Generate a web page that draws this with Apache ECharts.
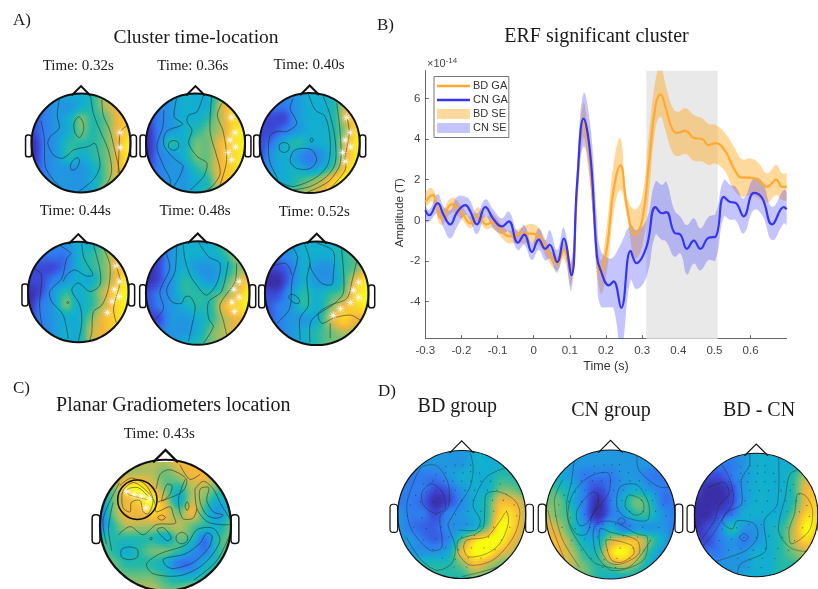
<!DOCTYPE html>
<html><head><meta charset="utf-8">
<style>html,body{margin:0;padding:0;background:#fff}#c{width:818px;height:589px}</style>
<script src="https://cdn.jsdelivr.net/npm/echarts@6/dist/echarts.min.js"></script>
</head><body><div id="c"></div>
<script>
// ---------- Panel B: ERF time courses (x10^-14 T)
const timeBD=[-0.3,-0.28,-0.256,-0.226,-0.198,-0.175,-0.155,-0.131,-0.115,-0.074,-0.055,-0.037,-0.005,0.018,0.042,0.065,0.083,0.103,0.12,0.137,0.152,0.166,0.185,0.203,0.221,0.24,0.258,0.28,0.3,0.318,0.337,0.351,0.364,0.383,0.397,0.42,0.443,0.466,0.484,0.503,0.53,0.554,0.577,0.6,0.623,0.646,0.671,0.687,0.7];
const bdMean=[0.9,1.25,0.1,0.8,0.35,-0.15,0.25,-0.2,-0.1,-0.75,-0.8,-0.65,-0.65,-0.9,-1.6,-2.1,-1.45,-2.6,1.5,4.85,3.4,0.5,-2.6,-1.3,1.5,2.7,0.65,-0.7,0,2.65,5.65,6.2,5.6,4.5,4.3,4.4,4.05,4.0,3.7,3.8,3.4,2.55,2.1,2.1,1.95,1.65,2.0,1.65,1.65];
const bdUpper=[1.33,1.57,0.51,1.11,0.67,0.18,0.64,0.18,0.34,-0.48,-0.48,-0.39,-0.18,-0.48,-1.3,-1.79,-1.13,-1.95,2.15,5.75,4.11,1.16,-1.95,-0.15,2.8,4.03,1.16,0.54,1.16,4.11,6.9,7.6,6.74,5.59,5.34,5.51,5.18,5.02,4.74,4.69,4.28,3.62,3.0,3.05,2.8,2.31,2.72,2.31,2.28];
const bdLower=[0.67,0.92,-0.23,0.38,0.02,-0.39,-0.07,-0.44,-0.39,-1.1,-1.13,-1.13,-1.13,-1.3,-2.03,-2.44,-1.87,-3.18,0.84,4.03,2.8,-0.15,-3.59,-2.44,0.34,1.49,0.18,-1.87,-1.3,1.16,4.52,5.1,4.44,3.38,3.16,3.26,2.93,2.89,2.72,2.8,2.39,1.49,1.16,1.25,1.08,0.87,1.25,1.0,1.0];
const timeCN=[-0.3,-0.289,-0.266,-0.249,-0.231,-0.212,-0.189,-0.177,-0.157,-0.134,-0.111,-0.088,-0.069,-0.044,-0.026,-0.005,0.014,0.032,0.044,0.065,0.083,0.104,0.12,0.138,0.157,0.175,0.185,0.208,0.221,0.242,0.268,0.284,0.312,0.337,0.355,0.367,0.389,0.406,0.424,0.443,0.461,0.484,0.503,0.526,0.544,0.558,0.581,0.609,0.632,0.66,0.692,0.7];
const cnMean=[0.5,0.25,0.85,0.25,-0.2,0.4,0.75,0.5,-0.2,0.65,0.05,-0.3,-0.05,-1.1,-0.7,-1.55,-0.95,-1.4,-1.2,-2.05,-0.9,-2.7,1.8,5.0,3.15,-1.8,-2.45,-3.2,-3.0,-4.3,-1.5,-2.1,-1.3,0.65,0.35,0.4,-0.6,-0.7,-1.4,-1.0,-1.4,-0.85,-0.8,1.15,0.9,0.87,0.2,1.35,1.1,-0.2,0.65,0.55];
const cnUpper=[0.67,0.51,1.3,0.67,0.51,1.16,1.16,1.0,0.34,1.03,0.51,0.1,0.43,-0.56,-0.23,-1.13,-0.39,-0.97,-0.48,-1.46,-0.36,-2.11,2.64,6.25,4.61,0.18,-1.46,-1.87,-1.79,-1.13,-0.23,-0.48,0.02,1.9,1.74,1.9,0.51,0.18,-0.23,0.1,-0.39,0.18,0.34,1.98,1.74,1.66,1.08,2.07,1.9,0.67,1.49,1.33];
const cnLower=[-0.07,-0.07,0.34,-0.39,-0.89,-0.31,0.26,0.02,-0.67,0.18,-0.39,-0.67,-0.56,-1.46,-1.21,-1.95,-1.46,-1.98,-1.87,-2.57,-1.46,-3.43,1.0,3.62,1.66,-2.77,-4.21,-4.28,-4.33,-6.3,-2.93,-3.39,-2.77,-0.72,-0.97,-1.05,-1.79,-1.62,-2.66,-2.13,-2.46,-1.95,-1.95,0.18,0.02,0.02,-0.64,0.51,0.26,-0.97,-0.15,-0.23];
const clusterWindow=[0.3115,0.509];
const xTicks=[-0.3,-0.2,-0.1,0,0.1,0.2,0.3,0.4,0.5,0.6];
const yTicks=[-4,-2,0,2,4,6];

// ---------- Topographies: level 0..10 on the colour scale, top row first
const heatT032=[[2,2,3,4,4,5,7,8,8],[2,2,3,3,4,5,7,8,8],[1,2,3,4,6,5,6,8,9],[1,2,3,4,6,5,6,8,9],[0,2,3,5,5,5,6,8,10],[0,2,3,5,4,5,6,8,10],[1,2,3,3,3,4,6,8,10],[2,2,3,3,3,4,6,8,10],[2,2,3,3,3,4,7,8,9]];
const heatT036=[[2,2,3,4,4,4,6,8,8],[1,2,3,4,4,4,7,9,9],[1,2,3,4,4,5,7,9,9],[0,2,3,4,5,6,7,9,10],[0,2,5,4,6,6,8,9,10],[0,2,3,4,6,6,8,9,10],[1,2,3,3,5,6,8,9,10],[2,2,3,3,4,5,8,9,10],[2,2,3,3,4,5,7,9,9]];
const heatT040=[[2,2,2,3,4,4,5,8,8],[2,2,2,3,4,4,5,8,9],[1,1,1,3,4,4,5,8,9],[1,1,2,3,4,4,5,7,10],[1,2,4,5,4,4,5,8,10],[1,3,4,3,2,3,5,8,10],[2,3,4,4,3,4,6,9,10],[3,4,4,5,6,7,9,10,10],[4,4,5,6,7,8,9,9,9]];
const heatT044=[[2,2,2,3,4,4,6,8,8],[2,2,2,2,4,5,6,8,9],[1,1,1,2,4,5,6,8,9],[1,1,2,3,4,4,6,8,10],[0,1,3,5,4,5,7,9,10],[0,2,3,6,4,5,7,9,10],[1,2,3,4,4,6,8,9,10],[2,2,3,4,4,7,8,9,9],[2,2,3,4,4,7,8,8,8]];
const heatT048=[[2,2,3,4,4,4,6,7,7],[1,1,3,4,4,4,5,7,7],[0,1,3,4,3,3,4,6,7],[0,1,3,5,4,3,5,7,9],[1,2,3,5,5,5,6,8,10],[1,2,3,4,5,5,8,9,10],[1,1,3,3,4,5,7,8,9],[2,2,3,3,4,6,7,8,8],[2,2,3,4,5,6,7,7,7]];
const heatT052=[[2,2,3,4,4,4,5,6,7],[2,2,3,4,4,4,5,6,8],[1,1,2,4,3,3,5,6,9],[0,0,2,4,3,3,5,8,10],[1,1,3,5,4,5,6,9,10],[1,2,3,5,4,6,8,9,10],[1,2,3,3,4,7,9,8,8],[2,2,3,4,5,6,7,7,7],[2,2,3,4,5,6,6,6,6]];
const heatC043=[[7,7,7,7,7,7,8,8,7,7,7],[7,7,7,7,7,6,7,8,8,7,7],[6,6,9,10,8,6,5,7,7,6,6],[3,6,8,9,10,7,4,7,6,4,5],[2,6,8,8,9,8,6,8,5,3,5],[2,5,7,7,7,7,7,6,5,4,6],[5,5,5,5,5,4,6,5,2,5,6],[6,5,4,5,6,6,5,3,2,5,6],[6,6,5,5,5,4,2,2,4,5,6],[7,6,6,6,6,5,4,4,5,6,7],[7,7,7,7,7,6,6,7,7,7,7]];
const heatBD=[[3,3,3,3,3,3,4,4,4,4,4],[3,3,3,3,3,3,4,4,4,5,5],[2,2,2,2,3,4,4,4,5,5,5],[2,2,2,1,1.5,3,4,4,6,6,5],[2,2,1.5,0,1,2.5,4,5,8,8,7],[3,2,2,1,2.5,3,4,5,9,9,7],[3,2,1.5,1.5,2.5,3,4,6,10,9,7],[3,3,2,1.5,2.5,6,9,10,10,8,7],[4,3,3,3,4,8,10,10,8,7,6],[5,5,5,5,5,6,8,7,6,6,6],[5,5,5,5,5,5,6,6,6,6,6]];
const heatCN=[[3,3,3,3,3,3,3,3,3,3,3],[4,4,3,3,3,3,3,3,3,2,2],[5,4,3,2,2,2,3,3,2,2,3],[6,5,4,2,1,2,3,4,3,2,2],[6,6,4,2,0,2,4,6,5,2,2],[7,6,5,2,0,2,3,5,5,3,2],[8,7,5,3,2,4,2,3,3,3,2],[8,8,6,4,4,7,8,8,6,4,2],[8,8,7,5,5,9,10,8,5,3,2],[8,8,7,6,5,6,7,6,4,3,3],[7,7,6,6,5,4,4,4,3,3,3]];
const heatDiff=[[2,2,2,3,3,4,4,4,4,5,5],[2,2,2,2,3,4,4,4,4,5,6],[1,1,1,2,3,4,4,4,5,7,7],[1,0,0,1,3,4,4,4,5,8,8],[0,0,0,1,3,4,4,4,5,8,9],[0,0,1,2,4,4,4,4,6,9,9],[0,1,2,5,3,3,4,5,7,10,9],[1,1,2,3,2,3,4,5,7,9,8],[2,2,2,3,3,4,4,5,6,7,7],[3,3,3,3,3,4,4,5,5,6,6],[3,3,3,3,4,4,4,5,5,5,5]];

// ---------- Contours, in percent of the head radius
const contT032=[[[-81,45],[-74,9],[-72,-48],[-56,-74],[-39,-91]],[[-44,87],[-48,56],[-44,30],[-62,13],[-67,-1],[-56,-24],[-39,-31],[-26,-24],[-15,-14],[15,-7],[28,-1],[35,-21],[38,-48],[25,-74],[-5,-98]],[[-5,53],[4,42],[5,25],[-3,11],[-12,20],[-14,40],[-5,53]],[[-6,-30],[-3,-38],[-10,-52],[-20,-54],[-21,-44],[-14,-33],[-6,-30]],[[19,98],[25,60],[38,26],[55,-14],[62,-54],[55,-78],[38,-95]],[[42,87],[45,56],[58,26],[68,-14],[78,-61],[75,-88]],[[95,36],[80,23],[77,-14],[75,-61]]];
const contT036=[[[-64,66],[-66,33],[-78,-7],[-64,-48],[-51,-74],[-54,-95]],[[16,97],[3,63],[-14,56],[-17,43],[-7,26],[-14,0],[3,-27],[23,-41],[16,-68],[-11,-95]],[[-38,90],[-43,53],[-26,38],[-59,23],[-64,-4],[-44,-31],[-25,-48],[-44,-88]],[[-44,5],[-35,1],[-35,-10],[-44,-15],[-54,-9],[-53,1],[-44,5]],[[33,97],[30,60],[30,19],[43,-27],[50,-61],[36,-85],[16,-100]],[[53,80],[44,56],[56,23],[63,-34],[53,-75],[46,-95]]];
const contT040=[[[-33,89],[-39,69],[-26,39],[-46,23],[-66,23],[-80,13],[-81,-34],[-66,-68],[-63,-80]],[[-3,99],[11,66],[31,53],[41,6],[37,-41],[14,-68],[-33,-87],[-63,-77]],[[-51,1],[-42,-3],[-42,-14],[-51,-19],[-60,-14],[-60,-3],[-51,1]],[[4,10],[7,7],[5,2],[2,2],[1,7],[4,10]],[[-19,-11],[4,-14],[14,-34],[1,-51],[-26,-51],[-39,-37],[-33,-17],[-19,-11]],[[27,93],[41,56],[51,6],[51,-41],[34,-67],[1,-87],[-33,-94]],[[54,79],[61,19],[61,-41],[41,-74],[21,-87],[-6,-99]],[[74,56],[79,19],[71,-27],[71,-54],[41,-91]]];
const contT044=[[[-87,46],[-73,34],[-77,-26],[-70,-73],[-57,-86]],[[-40,94],[-15,77],[-23,67],[-33,27],[-57,1],[-53,-19],[-30,-46],[-20,-93]],[[7,97],[11,68],[29,34],[15,32],[-7,44],[-23,34],[-30,21]],[[30,94],[43,44],[43,14],[23,1],[0,18],[-13,4],[3,-26],[7,-59],[0,-99]],[[50,87],[63,54],[60,7],[47,-26],[30,-39],[27,-79],[23,-96]],[[73,57],[83,21],[70,-33],[77,-66]],[[-21,-19],[-19,-21],[-21,-23],[-23,-21],[-21,-19]]];
const contT048=[[[-62,80],[-54,48],[-73,3],[-66,-30],[-83,-52]],[[-41,90],[-44,41],[-60,6],[-50,-17],[-31,-20],[-25,-8],[-15,-7],[-5,-26],[-11,-62],[-18,-94]],[[1,99],[21,70],[43,57],[37,19],[17,-4],[-2,15],[-15,35],[-25,67],[-28,96]],[[59,61],[46,3],[21,-17],[21,-49],[30,-65],[11,-97]],[[75,57],[72,22],[43,-23],[50,-55],[56,-81]]];
const contT052=[[[-45,87],[-37,68],[-48,23],[-52,-29],[-77,-58]],[[-87,52],[-61,58],[-52,48],[-48,35]],[[-50,-2],[-40,-5],[-33,-14],[-36,-20],[-46,-17],[-54,-8],[-50,-2]],[[-23,94],[-13,61],[-19,29],[-16,-23],[-32,-48],[-32,-90]],[[0,97],[32,81],[32,35],[29,17],[10,19],[-10,45],[-13,58]],[[48,84],[52,3],[35,-19],[-10,-52],[-13,-94]],[[77,61],[68,23],[58,-10],[26,-23],[3,-39],[10,-58],[32,-48],[65,-42],[84,-52]],[[26,-58],[26,-87]]];
const contC043=[[[-70,62],[-52,74],[-29,62],[-16,34],[-14,21],[7,29],[12,16],[15,3],[-14,1],[-34,-15],[-54,-2],[-72,-15]],[[-65,54],[-49,67],[-29,54],[-19,39],[-26,18],[-34,21],[-39,39],[-52,36],[-54,21],[-65,28],[-65,54]],[[-57,57],[-42,59],[-29,48],[-26,41],[-42,44],[-57,49],[-57,57]],[[-6,39],[2,64],[10,62],[7,49],[-3,39],[-6,39]],[[-14,57],[-8,80],[7,87],[32,72],[25,52],[-14,36]],[[22,95],[37,72],[53,80]],[[33,37],[36,30],[33,23],[30,30],[33,37]],[[-6,16],[0,12],[-6,8],[-12,12],[-6,16]],[[53,57],[66,59],[63,39],[73,21],[88,16],[78,11],[63,16],[53,36],[53,57]],[[45,57],[58,69],[73,57],[83,36],[98,11]],[[45,57],[48,26],[63,6],[83,1],[98,1]],[[30,72],[20,41],[26,11],[42,11],[48,26]],[[-3,-53],[30,-45],[53,-28],[63,-12],[71,-17],[66,-35],[43,-58],[12,-68],[0,-63],[-3,-53]],[[-29,-61],[-9,-45],[32,-30],[48,-7],[73,-5],[83,-25],[58,-61],[22,-79],[-19,-76],[-29,-61]],[[98,-15],[78,-56],[43,-86]],[[-55,-34],[-43,-38],[-43,-50],[-55,-54],[-67,-50],[-67,-38],[-55,-34]],[[25,-11],[33,-16],[33,-25],[25,-29],[17,-25],[17,-16],[25,-11]],[[-13,-7],[-3,-4],[9,-20],[2,-24],[-13,-7]],[[-22,-19],[-20,-21],[-22,-23],[-24,-21],[-22,-19]],[[-70,67],[-95,11],[-90,-30]],[[-80,36],[-87,-5],[-82,-40]]];
const contBD=[[[-47,48],[-29,33],[-26,9],[-42,2],[-60,15],[-62,35],[-47,48]],[[-62,74],[-39,76],[-21,48],[-21,12],[-34,-4],[-31,-51],[-49,-56],[-78,-24],[-86,12],[-78,43],[-62,74]],[[13,98],[18,72],[13,43],[-3,17],[-21,-14],[-21,-19],[-10,-51],[-16,-77],[-39,-87],[-64,-70],[-87,-35]],[[39,33],[60,35],[83,22],[91,2],[81,-35],[49,-71],[13,-79],[-5,-61],[-5,-40],[23,-30],[34,-19],[36,12],[39,33]],[[70,4],[73,-14],[60,-45],[39,-61],[10,-66],[3,-51],[8,-40],[39,-35],[57,-14],[70,4]],[[68,73],[39,59],[21,28],[18,12],[29,-9],[23,-24],[-5,-24]],[[96,-56],[55,-82],[0,-97]]];
const contCN=[[[-27,35],[-19,30],[-22,12],[-37,-14],[-48,-17],[-53,2],[-42,22],[-27,35]],[[-32,59],[-3,64],[-3,33],[-27,1],[-37,-30],[-53,-30],[-66,-4],[-58,33],[-32,59]],[[28,30],[49,22],[51,4],[38,-1],[23,12],[28,30]],[[15,43],[41,46],[59,17],[57,-9],[23,-4],[10,12],[15,43]],[[17,-5],[23,-10],[17,-15],[11,-10],[17,-5]],[[-16,-22],[-1,-27],[41,-40],[44,-61],[15,-77],[-3,-74],[-16,-51],[-16,-22]],[[-6,-39],[33,-48],[36,-61],[17,-74],[2,-71],[-6,-51],[-6,-39]],[[-21,-14],[4,-11],[41,-30],[57,-35],[51,-71],[4,-87],[-21,-64],[-27,-30],[-21,-14]],[[-55,97],[-60,54],[-68,17],[-63,-19],[-37,-61],[-21,-77],[28,-82],[62,-40]],[[-74,54],[-87,22],[-76,-35],[-48,-82]],[[-97,7],[-89,-24],[-66,-82]],[[41,93],[44,69],[75,43],[96,43]]];
const contDiff=[[[-78,43],[-52,51],[-44,33],[-60,15],[-68,-9],[-99,-51]],[[-58,82],[-44,59],[-37,33],[-39,17],[-52,-1],[-68,-27],[-86,-48]],[[-11,98],[-11,77],[-24,56],[-24,17],[-47,4],[-55,-11],[-39,-22],[-31,-9],[-3,-14],[2,-35],[-18,-56],[-71,-74]],[[-20,-29],[-13,-35],[-20,-41],[-27,-35],[-20,-29]],[[36,93],[34,17],[13,-9],[15,-56],[-26,-77],[-31,-97]],[[75,73],[55,64],[47,28],[36,-24],[55,-51],[86,-56],[101,-40]],[[67,33],[80,30],[91,9],[86,-24],[57,-45],[53,-24],[62,2],[67,33]]];

// ---------- Significant sensors (white stars) and sensor layout (black dots)
const starsT032=[[79,21],[79,-9]];
const starsT036=[[73,52],[80,21],[70,6],[81,-8],[66,-19],[73,-34]];
const starsT040=[[74,51],[81,21],[71,6],[82,-8],[66,-19],[71,-37]];
const starsT044=[[75,52],[82,21],[72,5],[81,-9],[67,-19],[58,-41]];
const starsT048=[[80,22],[70,7],[80,-8],[66,-18],[71,-36]];
const starsT052=[[81,21],[71,6],[81,-8],[65,-18],[46,-30],[32,-43]];
const starsC043=[[-59,53],[-48,48],[-37,46],[-25,42],[-30,27]];
const sensorDots=[[-25,75],[-10,77],[2,77],[14,77],[-40,62],[-25,65],[-12,65],[2,65],[14,67],[28,65],[-60,48],[-45,52],[-28,52],[-14,52],[0,52],[14,52],[30,52],[45,52],[60,48],[-72,30],[-55,35],[-40,38],[-10,38],[5,38],[20,38],[40,38],[55,38],[70,32],[-80,15],[-65,20],[-45,20],[-18,22],[0,22],[18,22],[48,22],[65,22],[82,15],[-85,-2],[-62,-5],[-40,0],[-10,0],[10,5],[30,5],[50,5],[70,5],[86,-2],[-75,-20],[-55,-22],[-32,-20],[-12,-15],[8,-15],[30,-18],[50,-20],[75,-20],[-60,-40],[-40,-38],[-20,-35],[0,-35],[20,-33],[42,-35],[62,-40],[-45,-55],[-25,-52],[-5,-55],[15,-52],[35,-52],[52,-55],[-30,-68],[-10,-70],[10,-68],[30,-68],[-12,-82],[8,-82]];

const SERIF='"Liberation Serif","Times New Roman",serif', SANS='"Liberation Sans",Arial,sans-serif';
const STAR='path://M0,-10 L1,-2.4 L7,-7 L2.4,-1 L10,0 L2.4,1 L7,7 L1,2.4 L0,10 L-1,2.4 L-7,7 L-2.4,1 L-10,0 L-2.4,-1 L-7,-7 L-1,-2.4 Z';
const LINE_ICON='path://M0,0 L33,0 L33,0 Z M0,3.8 L33,3.8 L33,6.2 L0,6.2 Z M0,10 L33,10 L33,10 Z';
const PALETTE=['#3a2fa8','#3c49d8','#2f7cf0','#2196e0','#12aed0','#22b8a8','#6bbf7a','#b5bd5a','#f3b53c','#fbd32a','#f8fa10'];

const heads=[
 {h:heatT032,c:contT032,s:starsT032,cx:81,cy:143,r:49.5,lw:2},
 {h:heatT036,c:contT036,s:starsT036,cx:195.5,cy:143,r:49.5,lw:2},
 {h:heatT040,c:contT040,s:starsT040,cx:309.7,cy:143,r:50,lw:2},
 {h:heatT044,c:contT044,s:starsT044,cx:78.3,cy:292,r:50.3,lw:2},
 {h:heatT048,c:contT048,s:starsT048,cx:197.7,cy:293,r:51.8,lw:2},
 {h:heatT052,c:contT052,s:starsT052,cx:316.7,cy:293.3,r:51.8,lw:2},
 {h:heatC043,c:contC043,s:starsC043,cx:165.5,cy:527,r:65.5,lw:2.2,ring:true},
 {h:heatBD,c:contBD,d:sensorDots,cx:461.7,cy:514.5,r:64,lw:1.2},
 {h:heatCN,c:contCN,d:sensorDots,cx:610.5,cy:514.5,r:64.5,lw:1.2},
 {h:heatDiff,c:contDiff,d:sensorDots,cx:758.5,cy:515,r:64,lw:1.2}
];

const texts=[
 ['A)',13,21,17,'left'],['B)',377,26,17,'left'],['C)',13,389,17,'left'],['D)',378,392,17,'left'],
 ['Cluster time-location',196,37.5,19.5],['ERF significant cluster',596.5,37,20],
 ['Planar Gradiometers location',173.3,406,20],
 ['Time: 0.32s',78.3,66.5,15],['Time: 0.36s',192.7,66.5,15],['Time: 0.40s',309,65,15],
 ['Time: 0.44s',75.3,211.5,15],['Time: 0.48s',195,211,15],['Time: 0.52s',314.3,212,15],
 ['Time: 0.43s',159.3,434,15],
 ['BD group',457.3,406.5,20],['CN group',611,410.5,20],['BD - CN',759,410.5,20]
];
const title=texts.map(t=>({text:t[0],left:t[1],top:t[2],textAlign:t[4]||'center',textVerticalAlign:'middle',padding:0,
  textStyle:{fontFamily:SERIF,fontSize:t[3],fontWeight:'normal',color:'#1a1a1a'}}));
title.push({text:'{a|×10}{b|-14}',left:427,top:64,textVerticalAlign:'middle',padding:0,
  textStyle:{fontFamily:SANS,fontWeight:'normal',rich:{a:{fontFamily:SANS,fontSize:11,color:'#444'},b:{fontFamily:SANS,fontSize:8,color:'#444',verticalAlign:'top',padding:[0,0,6,0]}}}});

const grids=[{left:425.3,top:70.7,width:361.4,height:268}];
const xAxes=[{type:'value',min:-0.3,max:0.7,name:'Time (s)',nameLocation:'middle',nameGap:21,
  nameTextStyle:{fontFamily:SANS,fontSize:12.5,color:'#333'},splitLine:{show:false},
  axisLine:{onZero:false,lineStyle:{color:'#666'}},axisTick:{inside:true,length:3.5,lineStyle:{color:'#666'},customValues:xTicks},
  axisLabel:{fontFamily:SANS,fontSize:11.5,color:'#444',margin:6,customValues:xTicks,showMinLabel:true,showMaxLabel:true}}];
const yAxes=[{type:'value',min:-5.82,max:7.36,name:'Amplitude (T)',nameLocation:'middle',nameGap:15,
  nameTextStyle:{fontFamily:SANS,fontSize:11.5,color:'#333',padding:[0,16,0,0]},splitLine:{show:false},
  axisLine:{show:true,onZero:false,lineStyle:{color:'#666'}},axisTick:{show:true,inside:true,length:3.5,lineStyle:{color:'#666'},customValues:yTicks},
  axisLabel:{fontFamily:SANS,fontSize:11.5,color:'#444',margin:5,customValues:yTicks}}];

function bandSeries(name,t,lo,up,color){
  return {type:'custom',name,xAxisIndex:0,yAxisIndex:0,z:2,silent:true,
    data:t.map((v,i)=>[v,lo[i],up[i]]),encode:{x:0,y:[1,2]},itemStyle:{color},
    renderItem(p,api){
      if(p.dataIndex!==0) return null;
      const pts=[];
      t.forEach((v,i)=>pts.push(api.coord([v,up[i]])));
      for(let i=t.length-1;i>=0;i--) pts.push(api.coord([t[i],lo[i]]));
      const cs=p.coordSys;
      return {type:'group',clipPath:{type:'rect',shape:{x:cs.x,y:cs.y,width:cs.width,height:cs.height}},
        children:[{type:'polygon',shape:{points:pts,smooth:0.45},style:{fill:color}}]};
    }};
}
function lineSeries(name,t,v,color){
  return {type:'line',name,xAxisIndex:0,yAxisIndex:0,z:3,showSymbol:false,symbol:'none',smooth:0.45,
    data:t.map((x,i)=>[x,v[i]]),lineStyle:{color,width:2.2},itemStyle:{color}};
}
// smooth colour shading of a cell between the values read at its corners
const cr=(a,b,c,d,t)=>b+.5*t*(c-a+t*(2*a-5*b+4*c-d+t*(3*(b-c)+d-a)));
function shade(h,r,c){
  const n=h.length,m=h[0].length,R=Math.floor(r),C=Math.min(Math.floor(c),m-2),u=r-R,w=c-C;
  const g=(i,j)=>h[Math.max(0,Math.min(n-1,i))][Math.max(0,Math.min(m-1,j))];
  const rowv=i=>cr(g(i,C-1),g(i,C),g(i,C+1),g(i,C+2),w);
  const v=cr(rowv(R-1),rowv(R),rowv(R+1),rowv(R+2),u);
  return echarts.color.lerp(Math.max(0,Math.min(10,v))/10,PALETTE);
}
const series=[
 {type:'custom',name:'cluster',xAxisIndex:0,yAxisIndex:0,z:1,silent:true,data:[clusterWindow],encode:{x:[0,1]},
  renderItem(p,api){const a=api.coord([api.value(0),7.36]),b=api.coord([api.value(1),-5.82]);
    return {type:'rect',shape:{x:a[0],y:a[1],width:b[0]-a[0],height:b[1]-a[1]},style:{fill:'#e9e9e9'}};}},
 bandSeries('BD SE',timeBD,bdLower,bdUpper,'rgba(255,165,20,0.42)'),
 bandSeries('CN SE',timeCN,cnLower,cnUpper,'rgba(60,60,255,0.30)'),
 lineSeries('BD GA',timeBD,bdMean,'#ffa92e'),
 lineSeries('CN GA',timeCN,cnMean,'#3535f5')
];
heads.forEach((H,k)=>{
  const ax=k+1;
  grids.push({left:H.cx-H.r,top:H.cy-H.r,width:2*H.r,height:2*H.r});
  xAxes.push({type:'value',gridIndex:ax,min:-100,max:100,show:false});
  yAxes.push({type:'value',gridIndex:ax,min:-100,max:100,show:false});
  const n=H.h.length, step=200/(n-1), rows=[];
  H.h.forEach((row,i)=>row.forEach((v,j)=>{ if(i<n-1&&j<n-1) rows.push([-100+j*step,100-i*step,v,i,j]); }));
  const clip=api=>{const c=api.coord([0,0]),r=api.size([100,0])[0];return {type:'circle',shape:{cx:c[0],cy:c[1],r}};};
  const K=6,F=[0,.25,.5,.75,1];
  series.push({type:'custom',xAxisIndex:ax,yAxisIndex:ax,z:2,silent:true,data:rows,encode:{x:0,y:1},
    renderItem(p,api){
      const c=api.coord([api.value(0),api.value(1)]),sz=api.size([step,step]),i=api.value(3),j=api.value(4),ch=[];
      const x0=Math.round(c[0]),x1=Math.round(c[0]+sz[0]);
      for(let s=0;s<K;s++){
        const rr=i+(s+.5)/K,y0=Math.round(c[1]+s*sz[1]/K),y1=Math.round(c[1]+(s+1)*sz[1]/K);
        if(y1<=y0) continue;
        ch.push({type:'rect',shape:{x:x0,y:y0,width:x1-x0,height:y1-y0},
          style:{fill:{type:'linear',x:0,y:0,x2:1,y2:0,colorStops:F.map(f=>({offset:f,color:shade(H.h,rr,j+f)}))}}});
      }
      return {type:'group',clipPath:clip(api),children:ch};
    }});
  series.push({type:'custom',xAxisIndex:ax,yAxisIndex:ax,z:3,silent:true,data:H.c.map((l,i)=>[i]),encode:{x:[],y:[]},
    renderItem(p,api){
      const L=H.c[p.dataIndex],pts=L.map(q=>api.coord(q));
      const closed=L[0][0]===L[L.length-1][0]&&L[0][1]===L[L.length-1][1];
      return {type:'group',clipPath:clip(api),children:[{type:closed?'polygon':'polyline',
        shape:{points:closed?pts.slice(0,-1):pts,smooth:0.3},style:{fill:null,stroke:'#1c2a2a',lineWidth:H.d?.6:.7,opacity:H.d?.7:.8}}]};
    }});
  if(H.d) series.push({type:'scatter',xAxisIndex:ax,yAxisIndex:ax,z:4,silent:true,symbolSize:1.2,data:H.d,itemStyle:{color:'#234',opacity:.7}});
  if(H.s) series.push({type:'scatter',xAxisIndex:ax,yAxisIndex:ax,z:4,silent:true,symbol:STAR,symbolSize:10,data:H.s,
    itemStyle:{color:'#fff',shadowBlur:6,shadowColor:'#fff'}});
  series.push({type:'custom',xAxisIndex:ax,yAxisIndex:ax,z:5,silent:true,data:[[0,0]],encode:{x:0,y:1},
    renderItem(p,api){
      const c=api.coord([0,0]),r=api.size([100,0])[0],u=v=>v*r/100;
      const st={fill:null,stroke:'#111',lineWidth:H.lw};
      const ear=s=>({type:'rect',shape:{x:s<0?c[0]-r-u(12):c[0]+r,y:c[1]-u(16),width:u(12),height:u(44),r:u(5)},style:{fill:null,stroke:'#111',lineWidth:Math.min(H.lw,1.5)}});
      const ch=[ear(-1),ear(1),
        {type:'polyline',shape:{points:[[c[0]-u(19),c[1]-u(96)],[c[0],c[1]-u(115)],[c[0]+u(19),c[1]-u(96)]]},style:st},
        {type:'circle',shape:{cx:c[0],cy:c[1],r},style:st}];
      if(H.ring){const q=api.coord([-43,40]);ch.push({type:'circle',shape:{cx:q[0],cy:q[1],r:u(30)},style:{fill:null,stroke:'#111',lineWidth:1.5}});}
      return {type:'group',children:ch};
    }});
});

const chart=echarts.init(document.getElementById('c'),null,{renderer:'canvas'});
chart.setOption({animation:false,backgroundColor:'#fff',title,grid:grids,xAxis:xAxes,yAxis:yAxes,series,
  legend:{left:434,top:76.5,orient:'vertical',selectedMode:false,itemWidth:33,itemHeight:10,itemGap:3,padding:[4,1,4,3],
    borderColor:'#777',borderWidth:1,backgroundColor:'#fff',z:20,
    textStyle:{fontFamily:SANS,fontSize:11,color:'#333',padding:[0,0,0,-2]},
    data:[{name:'BD GA',icon:LINE_ICON},{name:'CN GA',icon:LINE_ICON},{name:'BD SE',icon:'rect'},{name:'CN SE',icon:'rect'}]}
});
</script></body></html>
